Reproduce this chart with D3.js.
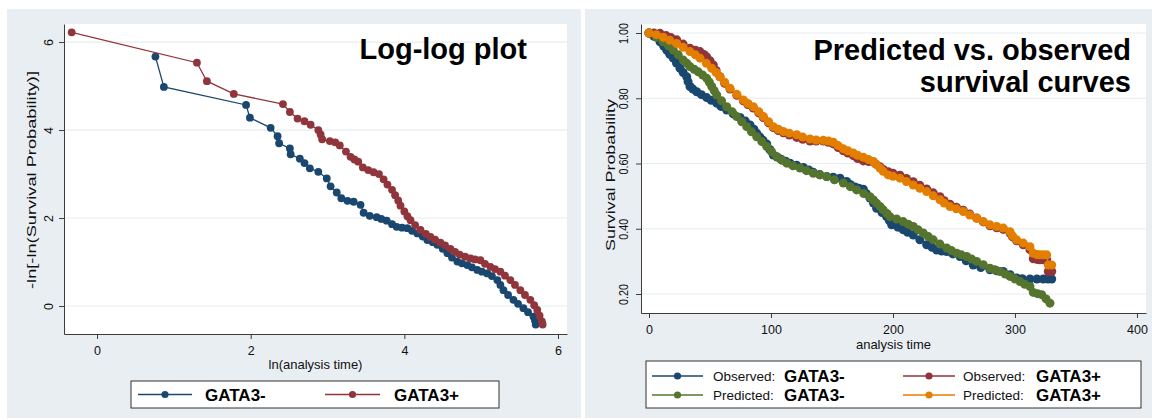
<!DOCTYPE html>
<html>
<head>
<meta charset="utf-8">
<script src="https://cdn.jsdelivr.net/npm/d3@7"></script>
<style>
  body { margin: 0; background: #fff; }
  svg { display: block; font-family: "Liberation Sans", Arial, sans-serif; }
</style>
</head>
<body>
<svg id="chart" width="1152" height="420"></svg>
<script>
// tick values
const llTicksX = [0, 2, 4, 6];
const llTicksY = [0, 2, 4, 6];
const svTicksX = [0, 100, 200, 300, 400];
const svTicksY = [0.2, 0.4, 0.6, 0.8, 1.0];

// log-log plot: [ln(analysis time), -ln(-ln(S))]
const llNeg = [[0.76,5.67],[0.87,4.98],[1.94,4.57],[1.99,4.28],[2.26,4.05],[2.35,3.86],[2.37,3.70],[2.51,3.58],[2.52,3.45],[2.64,3.35],[2.70,3.25],[2.77,3.13],[2.88,3.05],[2.99,2.90],[3.04,2.72],[3.12,2.58],[3.18,2.45],[3.26,2.39],[3.34,2.37],[3.43,2.30],[3.47,2.12],[3.55,2.05],[3.64,2.02],[3.70,1.98],[3.77,1.94],[3.84,1.86],[3.90,1.80],[3.97,1.78],[4.04,1.77],[4.10,1.71],[4.17,1.65],[4.24,1.58],[4.30,1.50],[4.37,1.45],[4.43,1.39],[4.50,1.30],[4.56,1.20],[4.62,1.10],[4.69,1.01],[4.75,0.97],[4.82,0.93],[4.88,0.88],[4.95,0.82],[5.01,0.78],[5.08,0.74],[5.14,0.68],[5.21,0.59],[5.25,0.48],[5.29,0.36],[5.35,0.25],[5.42,0.14],[5.48,0.05],[5.55,-0.05],[5.61,-0.14],[5.68,-0.24],[5.70,-0.33],[5.71,-0.42]];
const llPos = [[-0.33,6.22],[1.30,5.53],[1.43,5.11],[1.78,4.82],[2.42,4.59],[2.51,4.41],[2.61,4.26],[2.70,4.20],[2.78,4.12],[2.88,4.00],[2.91,3.90],[2.93,3.79],[3.03,3.75],[3.10,3.72],[3.16,3.65],[3.24,3.51],[3.30,3.39],[3.35,3.33],[3.40,3.28],[3.46,3.15],[3.53,3.09],[3.60,3.04],[3.67,3.00],[3.73,2.88],[3.78,2.76],[3.84,2.64],[3.88,2.52],[3.92,2.40],[3.95,2.28],[4.00,2.15],[4.04,2.04],[4.08,1.95],[4.14,1.84],[4.21,1.73],[4.28,1.64],[4.34,1.57],[4.40,1.51],[4.47,1.44],[4.53,1.38],[4.60,1.30],[4.66,1.23],[4.72,1.17],[4.79,1.12],[4.86,1.08],[4.92,1.06],[4.99,1.04],[5.05,0.96],[5.12,0.89],[5.18,0.84],[5.25,0.78],[5.31,0.69],[5.38,0.59],[5.44,0.48],[5.51,0.36],[5.57,0.25],[5.64,0.14],[5.69,0.02],[5.73,-0.09],[5.76,-0.22],[5.79,-0.35],[5.80,-0.42]];

// survival curves: [analysis time, survival probability]
const obsNeg = [[0,1.000],[4,0.990],[9,0.973],[12,0.960],[14.5,0.948],[17,0.935],[19.9,0.923],[22.5,0.908],[25.4,0.892],[28,0.879],[30.9,0.866],[32,0.851],[33.6,0.836],[36,0.828],[39.1,0.820],[43,0.811],[47.3,0.802],[51,0.794],[55.5,0.785],[59,0.775],[63.7,0.764],[69,0.752],[74.6,0.741],[79,0.730],[82.8,0.718],[86,0.705],[88.3,0.693],[91,0.681],[93.5,0.671],[96.5,0.660],[99,0.643],[101.9,0.626],[105,0.620],[108.2,0.613],[112,0.607],[115.6,0.601],[121,0.595],[126.5,0.588],[131,0.580],[134.7,0.573],[140,0.566],[145.7,0.560],[151,0.558],[156.6,0.555],[162,0.545],[165,0.536],[168.9,0.528],[172,0.524],[175.7,0.521],[178,0.508],[181.1,0.494],[184,0.479],[186.6,0.463],[191,0.450],[194.8,0.437],[197,0.425],[198.9,0.412],[204,0.405],[208.4,0.397],[212,0.389],[216.6,0.381],[222,0.366],[227.6,0.351],[232,0.343],[235.8,0.335],[240,0.332],[244,0.330],[249,0.323],[254.9,0.315],[260,0.302],[265.8,0.289],[272,0.281],[279.5,0.274],[285,0.271],[290.4,0.269],[296,0.259],[301.4,0.249],[306,0.247],[312.3,0.246],[318,0.246],[323.2,0.246],[327,0.246],[330.1,0.246]];
const obsPos = [[0,1.000],[4,1.000],[9,0.999],[14,0.992],[18,0.986],[22.7,0.979],[28,0.966],[33.6,0.953],[38,0.947],[41.8,0.943],[45,0.934],[47.3,0.927],[50,0.915],[52.7,0.902],[55,0.885],[58.2,0.866],[62,0.846],[66.4,0.828],[72,0.809],[77.3,0.792],[81,0.781],[85.5,0.770],[90,0.755],[93.7,0.741],[98,0.725],[101.9,0.710],[106,0.701],[110.1,0.694],[115,0.687],[121.1,0.680],[126,0.674],[132,0.669],[137,0.669],[142.9,0.669],[147,0.665],[151.1,0.660],[155,0.649],[159.3,0.639],[163,0.632],[167.5,0.624],[171,0.615],[175.7,0.608],[180,0.606],[183.9,0.605],[186,0.598],[189.3,0.590],[192,0.582],[196.1,0.575],[200,0.570],[205.7,0.564],[211,0.554],[216.6,0.544],[222,0.533],[227.6,0.522],[233,0.510],[238.5,0.498],[242,0.486],[246.7,0.475],[252,0.466],[257.6,0.457],[263,0.445],[268.6,0.433],[274,0.421],[279.5,0.409],[285,0.403],[290.4,0.398],[295.9,0.387],[298,0.375],[301.4,0.363],[306.8,0.351],[312.3,0.336],[315,0.308],[318,0.306],[320.5,0.305],[323,0.305],[326,0.305],[327.3,0.269],[330.1,0.269]];
const predNeg = [[0,1.000],[6,0.987],[11.7,0.973],[16,0.961],[19.9,0.948],[24,0.933],[28.1,0.917],[31,0.907],[33.6,0.897],[37,0.889],[40.4,0.881],[44,0.871],[47.3,0.861],[49.5,0.849],[51.4,0.836],[53.5,0.823],[55.5,0.810],[59.5,0.792],[63.7,0.774],[68,0.759],[71.9,0.744],[76,0.728],[80.1,0.713],[84,0.697],[88.3,0.682],[92.5,0.667],[96.5,0.652],[100.5,0.636],[104.7,0.621],[109,0.610],[112.9,0.601],[118,0.593],[123.8,0.586],[129,0.578],[134.7,0.570],[140,0.565],[145.7,0.560],[152,0.550],[159.3,0.540],[165,0.529],[170.2,0.519],[176,0.508],[181.1,0.498],[184,0.488],[186.6,0.478],[189.5,0.468],[192,0.458],[195,0.447],[197.5,0.437],[203,0.430],[208.4,0.422],[212.5,0.414],[216.6,0.407],[220.5,0.397],[224.8,0.387],[229,0.376],[233,0.366],[238.5,0.353],[244,0.341],[248,0.333],[252.2,0.325],[256,0.320],[260.4,0.315],[264.5,0.307],[268.6,0.300],[274,0.290],[279.5,0.279],[283.5,0.274],[287.7,0.269],[292,0.261],[295.9,0.254],[300,0.246],[304.1,0.238],[308,0.230],[312.3,0.223],[315,0.205],[318.5,0.201],[321.9,0.198],[325.5,0.185],[328.7,0.172]];
const predPos = [[0,1.000],[6,0.995],[11.7,0.987],[17,0.978],[22.7,0.968],[28,0.956],[33.6,0.943],[38,0.933],[41.8,0.923],[47,0.907],[51.4,0.892],[55,0.879],[58.2,0.866],[62,0.849],[66.4,0.831],[72,0.812],[77.3,0.795],[81,0.784],[85.5,0.774],[90,0.759],[93.7,0.744],[98,0.728],[101.9,0.713],[106,0.705],[110.1,0.698],[115,0.693],[121.1,0.688],[126,0.681],[132,0.675],[137,0.672],[142.9,0.671],[147,0.669],[151.1,0.665],[155,0.655],[159.3,0.645],[163,0.639],[167.5,0.632],[171,0.625],[175.7,0.619],[180,0.612],[183.9,0.606],[186,0.598],[189.3,0.586],[192,0.576],[196.1,0.565],[200,0.561],[205.7,0.555],[211,0.545],[216.6,0.534],[222,0.524],[227.6,0.514],[233,0.501],[238.5,0.489],[242,0.479],[246.7,0.468],[252,0.461],[257.6,0.453],[263,0.442],[268.6,0.432],[274,0.422],[279.5,0.412],[285,0.407],[290.4,0.402],[295.9,0.391],[298,0.378],[301.4,0.366],[306.8,0.356],[312.3,0.345],[315,0.325],[318,0.321],[320.5,0.320],[323,0.320],[326,0.320],[327.3,0.289],[330.1,0.289]];

const colNavy = '#1a476f';
const colMaroon = '#90353b';
const colGreen = '#55752f';
const colOrange = '#e37e00';
const bgRegion = '#e8eef2';
const gridCol = '#e6edf0';
const axisCol = '#3c3c3c';

const svg = d3.select('#chart');

// draws one Stata-style panel and returns its scales
const drawPanel = (p) => {
  const g = svg.append('g');
  g.append('rect').attr('x', p.box[0]).attr('y', p.box[1])
    .attr('width', p.box[2] - p.box[0]).attr('height', p.box[3] - p.box[1])
    .attr('fill', bgRegion);
  g.append('rect').attr('x', p.plot[0]).attr('y', p.plot[1])
    .attr('width', p.plot[2] - p.plot[0]).attr('height', p.plot[3] - p.plot[1])
    .attr('fill', '#fff');

  const x = d3.scaleLinear().domain(p.xDom).range([p.plot[0], p.plot[2]]);
  const y = d3.scaleLinear().domain(p.yDom).range([p.plot[3], p.plot[1]]);

  g.append('g').selectAll('line').data(p.yTicks).join('line')
    .attr('x1', p.plot[0]).attr('x2', p.plot[2])
    .attr('y1', d => y(d)).attr('y2', d => y(d))
    .attr('stroke', gridCol).attr('stroke-width', 1.2);

  const xAxis = g.append('g')
    .attr('transform', `translate(0,${p.plot[3]})`)
    .call(d3.axisBottom(x).tickValues(p.xTicks).tickFormat(p.xFmt).tickSize(5).tickPadding(7).tickSizeOuter(0));
  const yAxis = g.append('g')
    .attr('transform', `translate(${p.plot[0]},0)`)
    .call(d3.axisLeft(y).tickValues(p.yTicks).tickFormat(p.yFmt).tickSize(5).tickSizeOuter(0));

  [xAxis, yAxis].forEach((a) => {
    a.select('.domain').attr('stroke', axisCol);
    a.selectAll('.tick line').attr('stroke', axisCol);
    a.selectAll('text').attr('fill', '#111').attr('font-size', 12.5)
      .attr('font-family', '"Liberation Sans", Arial, sans-serif');
  });
  yAxis.selectAll('.tick text')
    .attr('x', null).attr('dy', null)
    .attr('text-anchor', 'middle')
    .attr('transform', `translate(${p.yLabOff},0) rotate(-90)`);
  if (p.yLabLen) {
    yAxis.selectAll('.tick text').attr('textLength', p.yLabLen).attr('lengthAdjust', 'spacingAndGlyphs');
  }

  g.append('text').attr('x', (p.plot[0] + p.plot[2]) / 2).attr('y', p.xTitleY)
    .attr('text-anchor', 'middle').attr('font-size', 13).attr('fill', '#111')
    .text(p.xTitle);
  g.append('text').attr('transform', `translate(${p.yTitleX},${p.yTitleMid}) rotate(-90)`)
    .attr('text-anchor', 'middle').attr('font-size', 13).attr('fill', '#111')
    .attr('textLength', p.yTitleLen).attr('lengthAdjust', 'spacingAndGlyphs')
    .text(p.yTitle);

  return { g, x, y };
};

// draws a connected series with filled markers
const drawSeries = (pn, data, color, r) => {
  const line = d3.line().x(d => pn.x(d[0])).y(d => pn.y(d[1]));
  pn.g.append('path').datum(data).attr('d', line)
    .attr('fill', 'none').attr('stroke', color).attr('stroke-width', 1.3);
  pn.g.append('g').selectAll('circle').data(data).join('circle')
    .attr('cx', d => pn.x(d[0])).attr('cy', d => pn.y(d[1]))
    .attr('r', r).attr('fill', color);
};

// legend key: line with a marker in the middle
const legendKey = (g, x0, x1, yy, color) => {
  g.append('line').attr('x1', x0).attr('x2', x1).attr('y1', yy).attr('y2', yy)
    .attr('stroke', color).attr('stroke-width', 1.3);
  g.append('circle').attr('cx', (x0 + x1) / 2).attr('cy', yy).attr('r', 3.6).attr('fill', color);
};

// ---- left: log-log plot
const left = drawPanel({
  box: [7, 9, 581, 418],
  plot: [64, 24, 567, 334],
  xDom: [-0.43, 6.117], yDom: [-0.636, 6.41],
  xTicks: llTicksX, yTicks: llTicksY,
  xFmt: d3.format('d'), yFmt: d3.format('d'),
  yLabOff: -11.5,
  xTitle: 'ln(analysis time)', xTitleY: 369,
  yTitle: '-ln[-ln(Survival Probability)]', yTitleX: 36, yTitleMid: 180, yTitleLen: 218,
});
drawSeries(left, llNeg, colNavy, 3.9);
drawSeries(left, llPos, colMaroon, 3.9);

left.g.append('text').attr('x', 527).attr('y', 59).attr('text-anchor', 'end')
  .attr('font-size', 29).attr('font-weight', 'bold').attr('fill', '#000')
  .text('Log-log plot');

const legL = left.g.append('g');
legL.append('rect').attr('x', 131).attr('y', 381).attr('width', 368).attr('height', 27)
  .attr('fill', '#fff').attr('stroke', '#333').attr('stroke-width', 1);
legendKey(legL, 138, 192, 394.5, colNavy);
legendKey(legL, 325, 380, 394.5, colMaroon);
legL.append('text').attr('x', 205).attr('y', 400.5).attr('font-size', 17).attr('font-weight', 'bold').text('GATA3-');
legL.append('text').attr('x', 394).attr('y', 400.5).attr('font-size', 17).attr('font-weight', 'bold').text('GATA3+');

// ---- right: predicted vs observed survival
const right = drawPanel({
  box: [585, 9, 1152, 418],
  plot: [641, 24, 1146, 313],
  xDom: [-6.56, 407.4], yDom: [0.1418, 1.0276],
  xTicks: svTicksX, yTicks: svTicksY,
  xFmt: d3.format('d'), yFmt: d3.format('.2f'),
  yLabOff: -13, yLabLen: 21,
  xTitle: 'analysis time', xTitleY: 349,
  yTitle: 'Survival Probability', yTitleX: 615, yTitleMid: 175, yTitleLen: 152,
});
drawSeries(right, obsNeg, colNavy, 4.5);
drawSeries(right, obsPos, colMaroon, 4.5);
drawSeries(right, predNeg, colGreen, 4.5);
drawSeries(right, predPos, colOrange, 4.5);

const ttl = right.g.append('text').attr('text-anchor', 'end')
  .attr('font-size', 29).attr('font-weight', 'bold').attr('fill', '#000');
ttl.append('tspan').attr('x', 1131).attr('y', 60).text('Predicted vs. observed');
ttl.append('tspan').attr('x', 1131).attr('y', 92).text('survival curves');

const legR = right.g.append('g');
legR.append('rect').attr('x', 646).attr('y', 361).attr('width', 495).attr('height', 47)
  .attr('fill', '#fff').attr('stroke', '#333').attr('stroke-width', 1);
const legRows = [
  { x0: 652, x1: 703, tx: 713, gx: 784, yy: 376, c: colNavy, pre: 'Observed:', name: 'GATA3-' },
  { x0: 652, x1: 703, tx: 713, gx: 784, yy: 395, c: colGreen, pre: 'Predicted:', name: 'GATA3-' },
  { x0: 903, x1: 955, tx: 963, gx: 1036, yy: 376, c: colMaroon, pre: 'Observed:', name: 'GATA3+' },
  { x0: 903, x1: 955, tx: 963, gx: 1036, yy: 395, c: colOrange, pre: 'Predicted:', name: 'GATA3+' },
];
legRows.forEach((r) => {
  legendKey(legR, r.x0, r.x1, r.yy, r.c);
  legR.append('text').attr('x', r.tx).attr('y', r.yy + 5).attr('font-size', 13.5).attr('fill', '#111').text(r.pre);
  legR.append('text').attr('x', r.gx).attr('y', r.yy + 6).attr('font-size', 17).attr('font-weight', 'bold').text(r.name);
});
</script>
</body>
</html>
